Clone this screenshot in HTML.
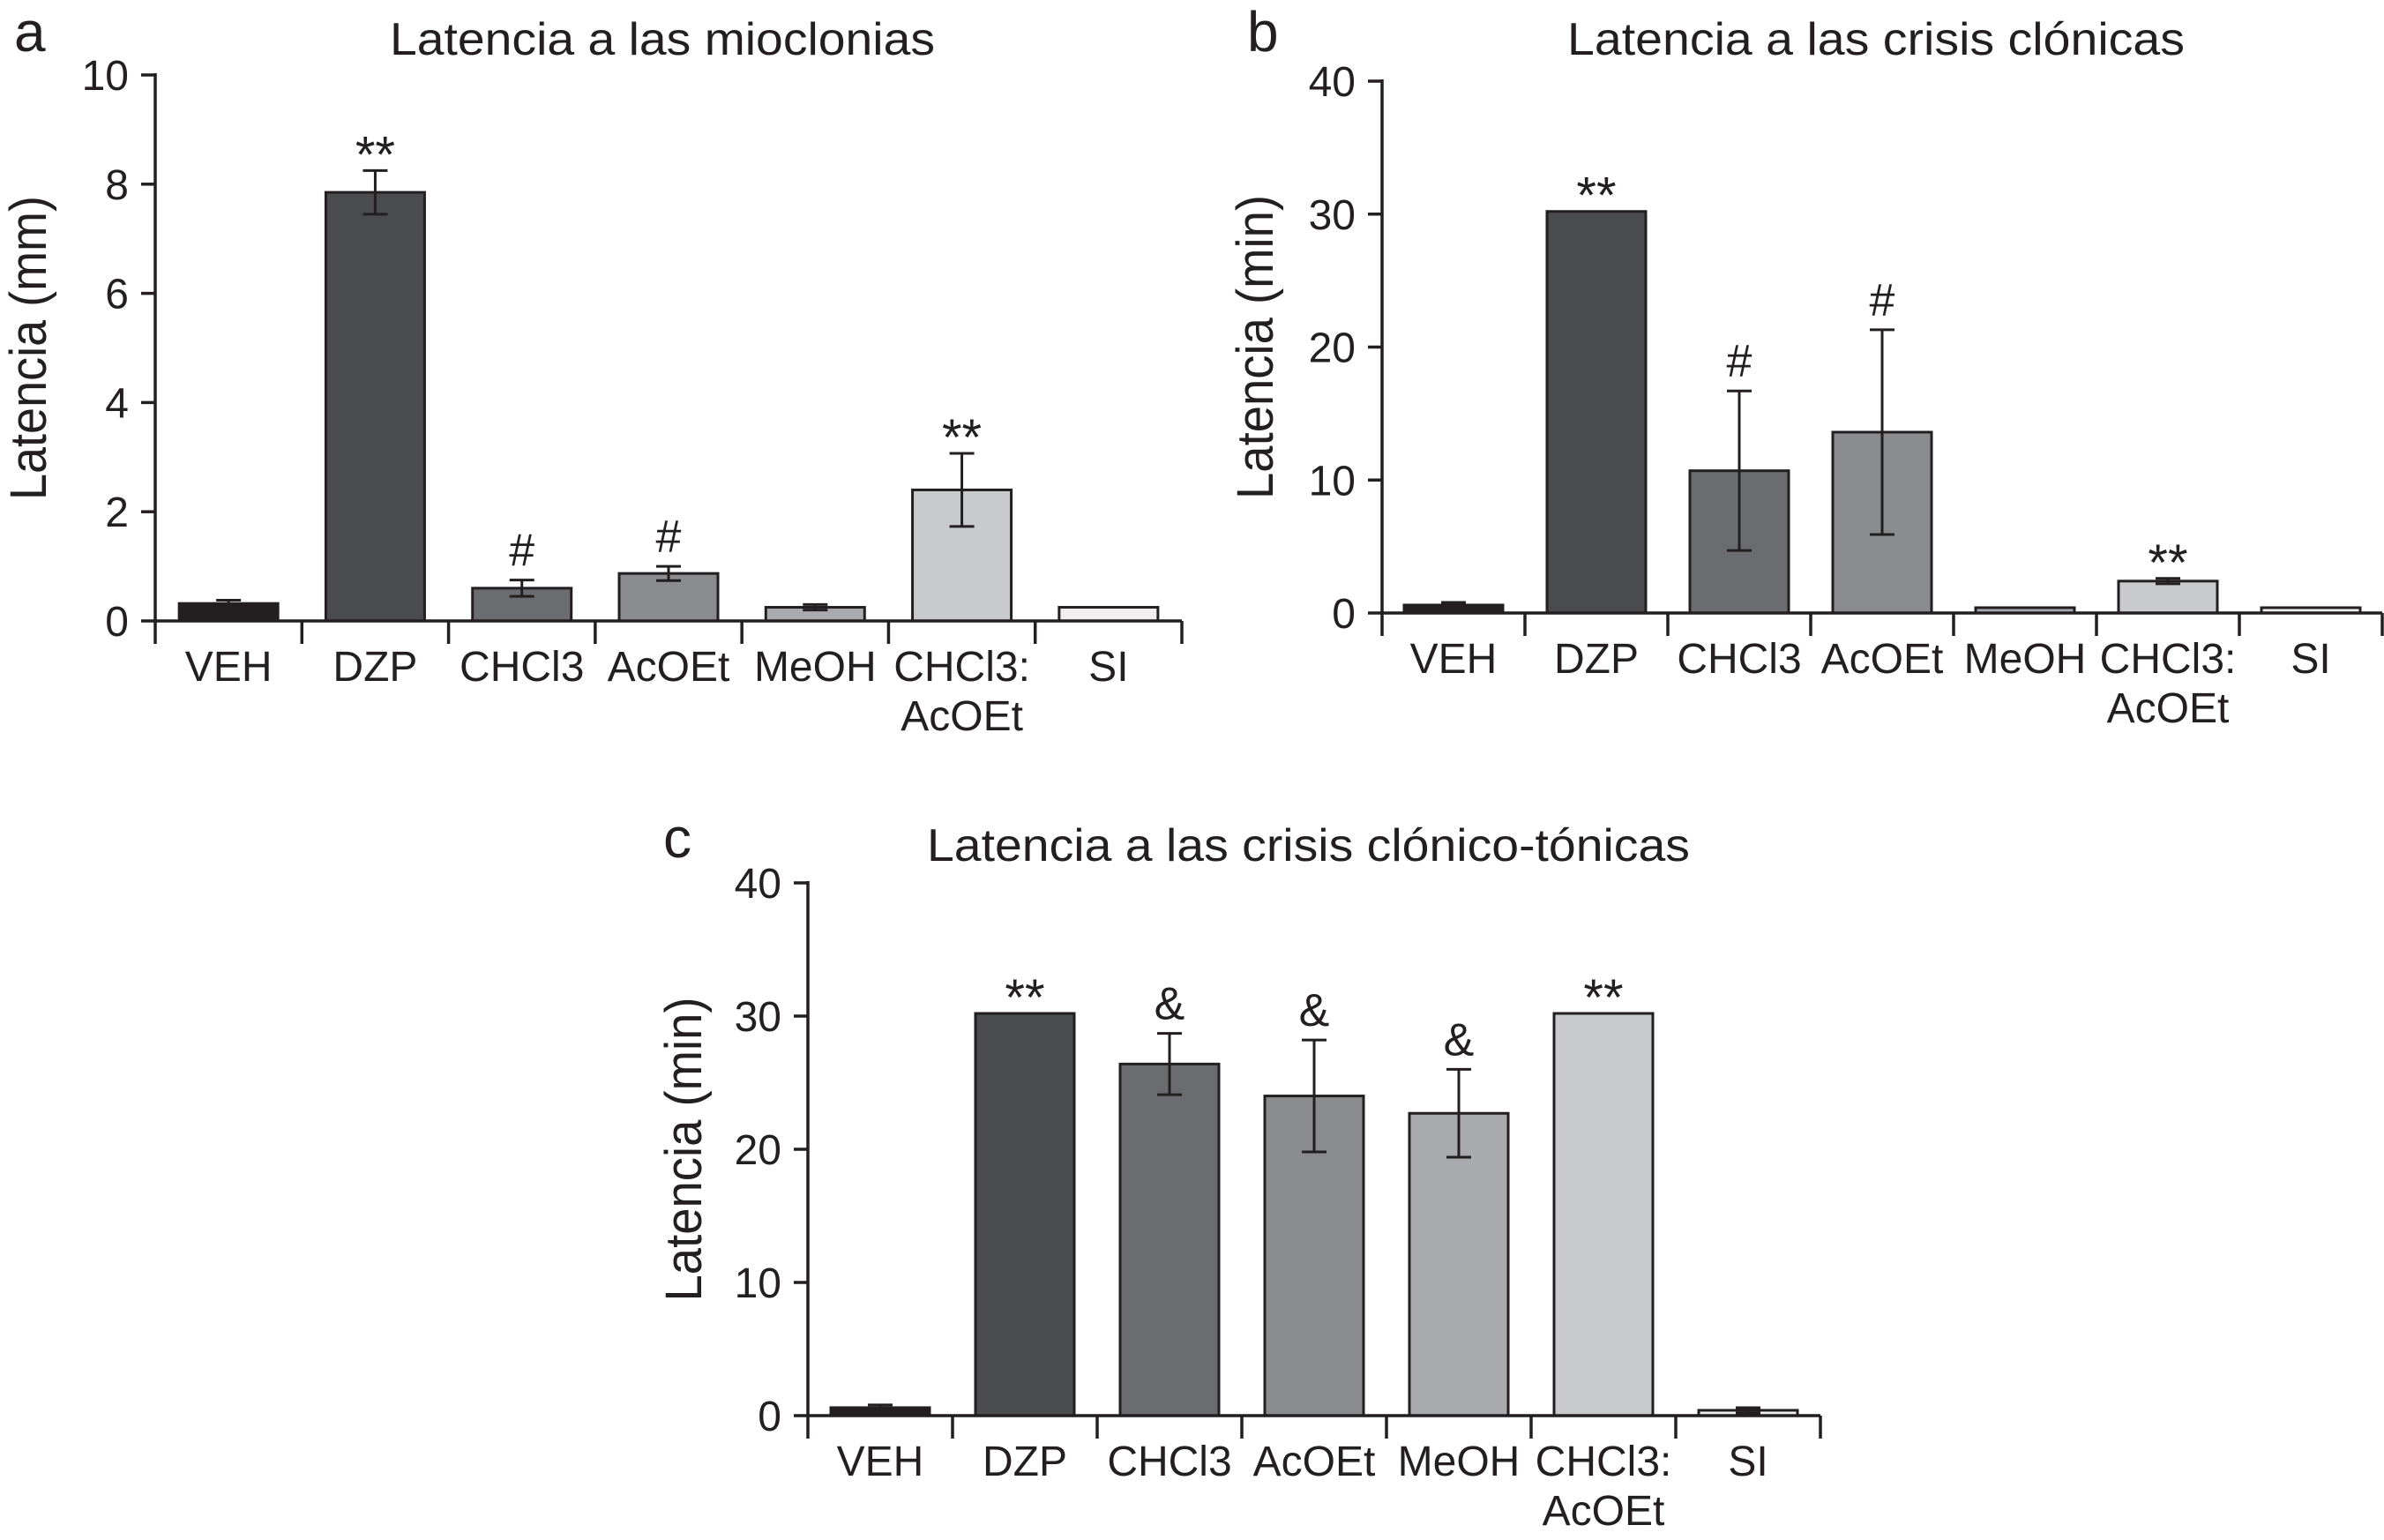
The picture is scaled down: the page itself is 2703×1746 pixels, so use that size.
<!DOCTYPE html>
<html><head><meta charset="utf-8"><style>
html,body{margin:0;padding:0;background:#fff;}
svg{display:block;font-family:"Liberation Sans",sans-serif;}
</style></head><body>
<svg id="fig" width="2703" height="1746" viewBox="0 0 2703 1746" xmlns="http://www.w3.org/2000/svg"></svg>
<script>
const categories = ['VEH','DZP','CHCl3','AcOEt','MeOH','CHCl3:|AcOEt','SI'];
const barColors = ['#231f20','#4a4b4d','#6b6c70','#8b8c8e','#a9aaad','#c9cacc','#efefef'];
const valuesA = [0.32, 7.85, 0.6, 0.87, 0.25, 2.4, 0.25];
const errA = [0.06, 0.4, 0.15, 0.13, 0.05, 0.67, 0];
const marksA = ['', '**', '#', '#', '', '**', ''];
const ticksA = [0, 2, 4, 6, 8, 10];
const valuesB = [0.6, 30.2, 10.7, 13.6, 0.4, 2.4, 0.4];
const errB = [0.2, 0, 6.0, 7.7, 0, 0.2, 0];
const marksB = ['', '**', '#', '#', '', '**', ''];
const ticksB = [0, 10, 20, 30, 40];
const valuesC = [0.6, 30.2, 26.4, 24.0, 22.7, 30.2, 0.4];
const errC = [0.2, 0, 2.3, 4.2, 3.3, 0, 0.2];
const marksC = ['', '**', '&', '&', '&', '**', ''];
const ticksC = [0, 10, 20, 30, 40];

const NS = 'http://www.w3.org/2000/svg';
const svg = document.getElementById('fig');
function mk(tag, attrs, parent, text) {
  const e = document.createElementNS(NS, tag);
  for (const k in attrs) e.setAttribute(k, attrs[k]);
  if (text !== undefined) e.textContent = text;
  (parent || svg).appendChild(e);
  return e;
}

function panel(p) {
  const g = mk('g', {});
  
  
  const y = v => p.y0 - (v - p.ymin) / (p.ymax - p.ymin) * (p.y0 - p.y1);
  const step = (p.xEnd - p.x0) / categories.length;
  const cx = i => p.x0 + step * (i + 0.5);

  const letter = mk('text', {x: p.lx, y: p.ly, 'font-size': 64, fill: '#231f20'}, g, p.id);
  
  
  const title = mk('text', {x: p.tx, y: p.ty, 'font-size': 52, fill: '#231f20', textLength: p.tw, lengthAdjust: 'spacingAndGlyphs'}, g, p.title);
  
  
  const yl = mk('text', {x: 0, y: 0, 'font-size': 58, fill: '#231f20', 'text-anchor': 'middle', textLength: 345, lengthAdjust: 'spacingAndGlyphs', transform: `translate(${p.ylx},${(p.y0 + p.y1) / 2}) rotate(-90)`}, g, p.ylabel);
  
  

  p.values.forEach((v, i) => {
    const bw = 112;
    const r = mk('rect', {x: cx(i) - bw / 2, y: y(v), width: bw, height: p.y0 - y(v), fill: barColors[i], stroke: '#231f20', 'stroke-width': 3}, g);
    
    
    const e = p.err[i];
    if (e > 0) {
      const eg = mk('g', {stroke: '#231f20', 'stroke-width': 3, fill: 'none'}, g);
      
      
      mk('line', {x1: cx(i), x2: cx(i), y1: y(v + e), y2: y(Math.max(v - e, 0))}, eg);
      mk('line', {x1: cx(i) - 14, x2: cx(i) + 14, y1: y(v + e), y2: y(v + e)}, eg);
      if (v - e > 0) mk('line', {x1: cx(i) - 14, x2: cx(i) + 14, y1: y(v - e), y2: y(v - e)}, eg);
    }
    const m = p.marks[i];
    if (m) {
      const top = y(v + e);
      const t = mk('text', {x: cx(i), y: m === '**' ? top + 2 : top - 16, 'font-size': m === '**' ? 58 : 52, 'text-anchor': 'middle', fill: '#231f20'}, g, m);
      
      
    }
    const parts = categories[i].split('|');
    parts.forEach((s, k) => {
      const lab = mk('text', {x: cx(i), y: p.y0 + 68 + k * 56, 'font-size': 48, 'text-anchor': 'middle', fill: '#231f20'}, g, s);
      
      
    });
  });

  const ax = mk('g', {stroke: '#231f20', 'stroke-width': 3.5, fill: 'none'}, g);
  
  
  mk('line', {x1: p.x0, x2: p.x0, y1: p.y1 - 2, y2: p.y0 + 26}, ax);
  mk('line', {x1: p.x0, x2: p.xEnd, y1: p.y0, y2: p.y0}, ax);
  for (let k = 1; k <= categories.length; k++) {
    mk('line', {x1: p.x0 + step * k, x2: p.x0 + step * k, y1: p.y0, y2: p.y0 + 26}, ax);
  }
  p.ticks.forEach(t => {
    mk('line', {x1: p.x0 - 16, x2: p.x0, y1: y(t), y2: y(t)}, ax);
    const tl = mk('text', {x: p.x0 - 30, y: y(t) + 17, 'font-size': 48, 'text-anchor': 'end', fill: '#231f20'}, g, String(t));
    
    
  });
}

panel({id: 'a', title: 'Latencia a las mioclonias', ylabel: 'Latencia (mm)', values: valuesA, err: errA, marks: marksA, ticks: ticksA,
  ymin: 0, ymax: 10, x0: 176, xEnd: 1340, y0: 704, y1: 85, lx: 16, ly: 58, tx: 442, ty: 62, tw: 618, ylx: 52});
panel({id: 'b', title: 'Latencia a las crisis clónicas', ylabel: 'Latencia (min)', values: valuesB, err: errB, marks: marksB, ticks: ticksB,
  ymin: 0, ymax: 40, x0: 1567, xEnd: 2701, y0: 695, y1: 92, lx: 1414, ly: 58, tx: 1777, ty: 62, tw: 700, ylx: 1443});
panel({id: 'c', title: 'Latencia a las crisis clónico-tónicas', ylabel: 'Latencia (min)', values: valuesC, err: errC, marks: marksC, ticks: ticksC,
  ymin: 0, ymax: 40, x0: 916, xEnd: 2064, y0: 1605, y1: 1001, lx: 752, ly: 972, tx: 1051, ty: 976, tw: 865, ylx: 795});
</script>
</body></html>
